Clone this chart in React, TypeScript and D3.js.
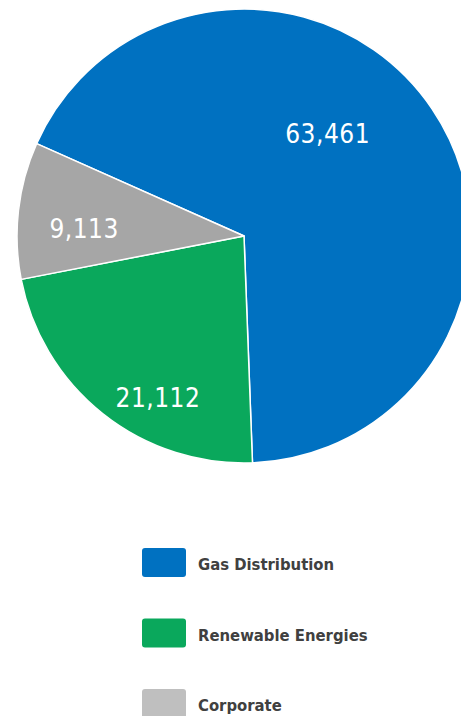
import React from "react";
import * as d3 from "d3";

const categories = ["Gas Distribution", "Renewable Energies", "Corporate"];
const values = [63461, 21112, 9113];
const sliceColors = ["#0071C1", "#0AA85C", "#A6A6A6"];
const legendColors = ["#0071C1", "#0AA85C", "#BFBFBF"];

// label placement tweaks: [angle offset in degrees from slice mid, radius fraction]
const labelPlacement = [
  [-16.5, 0.58],
  [-10.5, 0.81],
  [-4, 0.705],
];

const W = 461;
const H = 716;
const cx = 244;
const cy = 236;
const R = 227;
const startDeg = -66;

export default function App() {
  const pie = d3
    .pie<number>()
    .sort(null)
    .value((d) => d)
    .startAngle((startDeg * Math.PI) / 180)
    .endAngle(((startDeg + 360) * Math.PI) / 180);
  const arcs = pie(values);
  const arc = d3.arc<d3.PieArcDatum<number>>().innerRadius(0).outerRadius(R);
  const fmt = d3.format(",");

  const legendY = d3.scalePoint<string>().domain(categories).range([570, 711]);

  return (
    <div style={{ position: "absolute", left: 0, top: 0 }}>
      <svg width={W} height={H} style={{ display: "block" }}>
        <g transform={`translate(${cx},${cy})`}>
          {arcs.map((a, i) => (
            <path
              key={i}
              d={arc(a) || ""}
              fill={sliceColors[i]}
              stroke="#fff"
              strokeWidth={1.5}
              strokeLinejoin="round"
            />
          ))}
          {arcs.map((a, i) => {
            const mid = (a.startAngle + a.endAngle) / 2 + (labelPlacement[i][0] * Math.PI) / 180;
            const r = R * labelPlacement[i][1];
            const x = Math.sin(mid) * r;
            const y = -Math.cos(mid) * r;
            return (
              <text
                key={"l" + i}
                x={x}
                y={y}
                textAnchor="middle"
                dominantBaseline="central"
                fill="#fff"
                fontFamily="'DejaVu Sans Condensed', 'DejaVu Sans', sans-serif"
                fontSize={26}
                letterSpacing={0.5}
              >
                {fmt(values[i])}
              </text>
            );
          })}
        </g>
        {categories.map((c, i) => {
          const y = legendY(c)!;
          return (
            <g key={"lg" + i}>
              <rect x={142} y={y - 22} width={44} height={29} rx={3} fill={legendColors[i]} />
              <text
                x={198}
                y={y}
                fill="#404040"
                fontFamily="'DejaVu Sans Condensed', 'DejaVu Sans', sans-serif"
                fontWeight="bold"
                fontSize={16.5}
              >
                {c}
              </text>
            </g>
          );
        })}
      </svg>
    </div>
  );
}
